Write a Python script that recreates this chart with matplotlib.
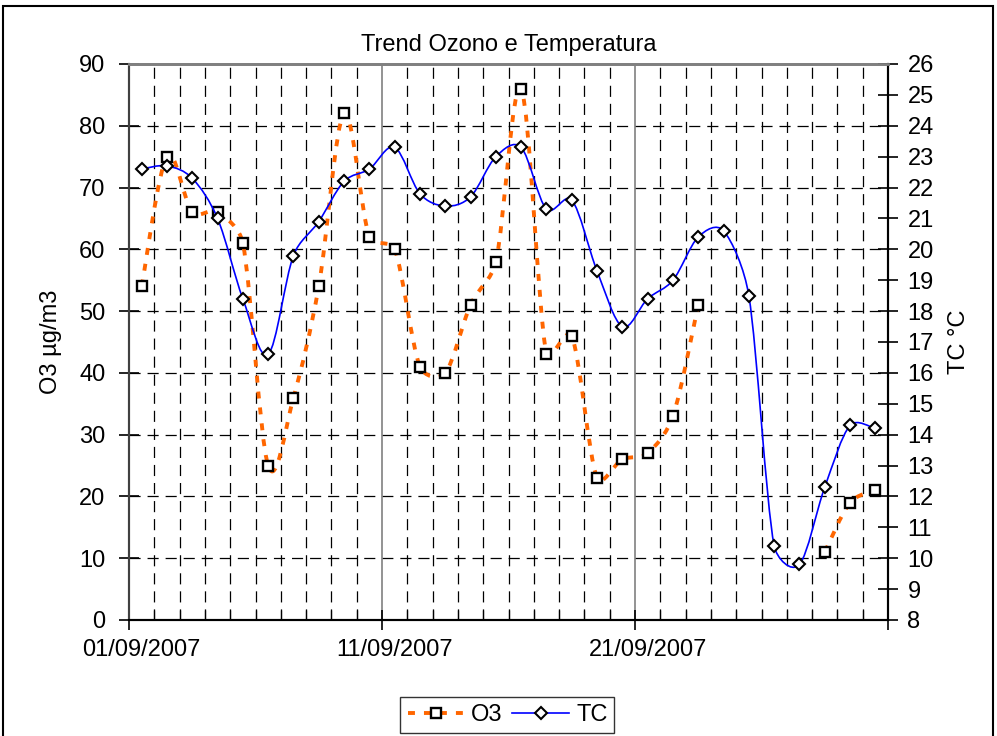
import numpy as np
import matplotlib.pyplot as plt
from matplotlib.path import Path
from matplotlib.patches import PathPatch, Rectangle
from matplotlib.lines import Line2D

plt.rcParams['font.family'] = ['Liberation Sans', 'DejaVu Sans']
plt.rcParams['lines.scale_dashes'] = False

# giorni di settembre 2007 (punto a meta' giornata, come in Excel)
giorni = np.arange(30) + 0.5
o3 = [54, 75, 66, 66, 61, 25, 36, 54, 82, 62, 60, 41, 40, 51, 58, 86, 43, 46,
      23, 26, 27, 33, 51, np.nan, np.nan, np.nan, np.nan, 11, 19, 21]
tc = [22.6, 22.7, 22.3, 21.0, 18.4, 16.6, 19.8, 20.9, 22.2, 22.6, 23.3, 21.8,
      21.4, 21.7, 23.0, 23.3, 21.3, 21.6, 19.3, 17.5, 18.4, 19.0, 20.4, 20.6,
      18.5, 10.4, 9.8, 12.3, 14.3, 14.2]
etichette_x = ['01/09/2007', '11/09/2007', '21/09/2007']
pos_etichette = [0.5, 10.5, 20.5]


def curva_smussata(x, y, sx, sy, k=0.4):
    # bezier stile Excel: catmull-rom, controlli limitati dalla corda (in pixel)
    p = np.column_stack([np.asarray(x) * sx, np.asarray(y) * sy])
    n = len(p)
    verts = [p[0]]
    codes = [Path.MOVETO]

    def tang(i):
        a = p[i - 1] if i > 0 else p[i]
        b = p[i + 1] if i < n - 1 else p[i]
        return (b - a) / 6.0

    for i in range(n - 1):
        L = np.hypot(*(p[i + 1] - p[i]))
        t1, t2 = tang(i), tang(i + 1)
        m1, m2 = np.hypot(*t1), np.hypot(*t2)
        if m1 > L * k:
            t1 = t1 * L * k / m1
        if m2 > L * k:
            t2 = t2 * L * k / m2
        verts += [p[i] + t1, p[i + 1] - t2, p[i + 1]]
        codes += [Path.CURVE4] * 3
    verts = np.array(verts) / [sx, sy]
    return Path(verts, codes)


def segmenti(x, y):
    y = np.array(y, dtype=float)
    ok = ~np.isnan(y)
    segs = []
    start = None
    for i in range(len(y)):
        if ok[i] and start is None:
            start = i
        if (not ok[i] or i == len(y) - 1) and start is not None:
            end = i if not ok[i] else i + 1
            segs.append((x[start:end], y[start:end]))
            start = None
    return segs


fig = plt.figure(figsize=(9.97, 7.36), dpi=100)
ax = fig.add_axes([129 / 997, 1 - 620 / 736, (888 - 129) / 997, (620 - 64) / 736])
ax2 = ax.twinx()

arancio = '#FF6600'
blu = '#0000FF'
px_giorno = (888 - 129) / 30
px_o3 = (620 - 64) / 90
px_tc = (620 - 64) / 18

# griglia
for v in range(10, 90, 10):
    ax.axhline(v, color='black', lw=0.9, dashes=(8, 5), zorder=0)
for d in range(1, 30):
    if d in (10, 20):
        ax.axvline(d, color='#808080', lw=1.2, zorder=0)
    else:
        ax.axvline(d, color='black', lw=0.9, dashes=(8, 5), zorder=0)

# O3
for xs, ys in segmenti(giorni, o3):
    if len(xs) > 1:
        ax.add_patch(PathPatch(curva_smussata(xs, ys, px_giorno, px_o3), fill=False,
                               edgecolor=arancio, lw=2.8, linestyle=(0, (5, 6.5)), zorder=2))
ax.plot(giorni, o3, ls='none', marker='s', ms=7.3, mfc='white', mec='black', mew=1.7, zorder=3)

# TC
ax2.add_patch(PathPatch(curva_smussata(giorni, tc, px_giorno, px_tc), fill=False,
                        edgecolor=blu, lw=1.2, zorder=2))
ax2.plot(giorni, tc, ls='none', marker='D', ms=6.2, mfc='white', mec='black', mew=1.5, zorder=3)

ax.set_xlim(0, 30)
ax.set_ylim(0, 90)
ax2.set_ylim(8, 26)
ax.set_yticks(range(0, 91, 10))
ax2.set_yticks(range(8, 27))

ax.set_xticks([0, 10, 20, 30])
ax.set_xticklabels([])
ax.set_xticks(range(0, 31), minor=True)
ax.tick_params(axis='x', which='major', direction='inout', length=14, width=1.2)
ax.tick_params(axis='x', which='minor', direction='in', length=7, width=0.9)
ax.tick_params(axis='y', direction='inout', length=14, width=1.2, labelsize=17, pad=10)
ax2.tick_params(axis='y', direction='inout', length=14, width=1.2, labelsize=17, pad=7)

sec = ax.secondary_xaxis('bottom')
sec.set_xticks(pos_etichette, etichette_x)
sec.tick_params(length=0, labelsize=17, pad=14)
sec.spines['bottom'].set_visible(False)

for a in (ax, ax2):
    a.spines['top'].set_color('#808080')
    a.spines['top'].set_linewidth(2)
    a.spines['left'].set_color('#404040')
    a.spines['left'].set_linewidth(1.5)
    a.spines['right'].set_color('black')
    a.spines['right'].set_linewidth(1.5)
    a.spines['bottom'].set_linewidth(1.5)

ax.set_ylabel('O3 µg/m3', fontsize=17, labelpad=12)
ax2.set_ylabel('TC °C', fontsize=17, labelpad=10)
ax.set_title('Trend Ozono e Temperatura', fontsize=17, pad=9)

h1 = Line2D([], [], color=arancio, lw=2.8, linestyle=(0, (5, 6.5)), marker='s', ms=7.3,
            mfc='white', mec='black', mew=1.7)
h2 = Line2D([], [], color=blu, lw=1.2, marker='D', ms=6.2, mfc='white', mec='black', mew=1.5)
leg = fig.legend([h1, h2], ['O3', 'TC'], loc='upper center', bbox_to_anchor=(0.509, 1 - 685 / 736),
                 ncol=2, fontsize=17, frameon=True, fancybox=False, edgecolor='black',
                 handlelength=2.4, handletextpad=0.3, columnspacing=0.4, borderpad=0.3)
leg.get_frame().set_linewidth(1)

fig.patches.append(Rectangle((3 / 997, -0.05), 990 / 997, 1.05 - 6 / 736, transform=fig.transFigure,
                             fill=False, edgecolor='black', lw=1.5))

fig.savefig('out.png', dpi=100)
